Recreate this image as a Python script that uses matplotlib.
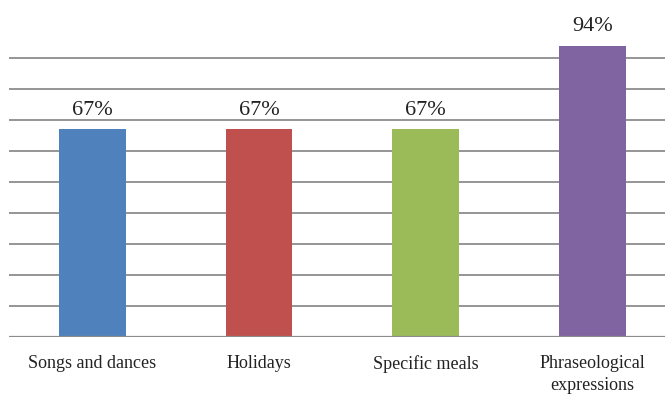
import matplotlib
matplotlib.use("Agg")
import matplotlib.pyplot as plt

categories = ["Songs and dances", "Holidays", "Specific meals", "Phraseological\nexpressions"]
values = [67, 67, 67, 94]
colors = ["#4F81BD", "#C0504D", "#9BBB59", "#8064A2"]
grid_levels = [10, 20, 30, 40, 50, 60, 70, 80, 90]

plt.rcParams["font.family"] = ["Liberation Serif", "DejaVu Serif"]

fig = plt.figure(figsize=(6.65, 3.94), dpi=100)
ax = fig.add_axes([9 / 665, 57 / 394, 666.5 / 665, 310 / 394])

x = list(range(len(categories)))
ax.bar(x, values, width=0.40, color=colors, zorder=3)

for lvl in grid_levels:
    ax.axhline(lvl, color="#8c8c8c", linewidth=1.3, zorder=1)
ax.axhline(0, color="#8c8c8c", linewidth=1.6, zorder=4)

for xi, v in zip(x, values):
    ax.annotate(f"{v}%", (xi, v), xytext=(0, 7), textcoords="offset points",
                ha="center", va="bottom", fontsize=16, color="#222222")

ax.set_xlim(-0.5, len(categories) - 0.5)
ax.set_ylim(0, 100)
ax.set_xticks(x)
ax.set_xticklabels(categories, fontsize=13, color="#222222", linespacing=1.35)
ax.tick_params(axis="x", length=0, pad=13)
ax.set_yticks([])
for s in ax.spines.values():
    s.set_visible(False)

fig.savefig("out.png", dpi=100)
